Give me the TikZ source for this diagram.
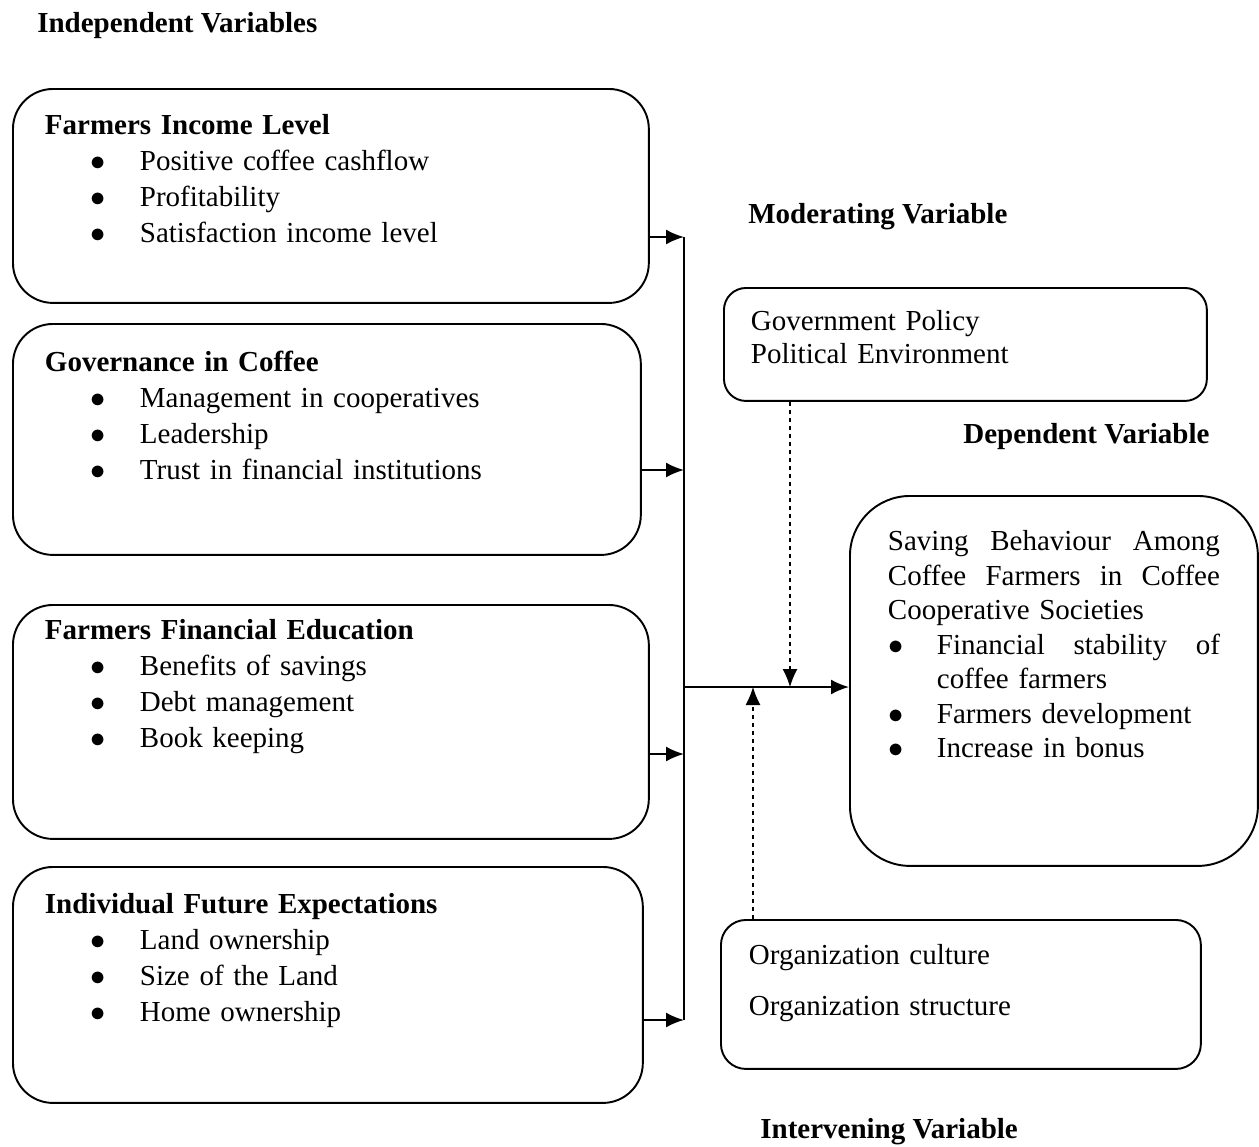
\documentclass[tikz,border=0pt]{standalone}
\usepackage{fontspec}
\setmainfont{Liberation Serif}
\usetikzlibrary{arrows.meta}
\newcommand\itm{\hspace*{0.92cm}\makebox[0.98cm][l]{$\bullet$}}
\newcommand\ditm{\makebox[0.98cm][l]{\hspace{0.02cm}$\bullet$}}
\begin{document}
\begin{tikzpicture}[x=0.02cm,y=-0.02cm,
	box/.style={draw,line width=1.1pt,anchor=north west,inner ysep=0pt,align=left},
	indep/.style={box,rounded corners=0.8cm,inner xsep=0.64cm,font=\fontsize{16.5}{20.4}\selectfont},
	heading/.style={anchor=base west,inner sep=0pt,font=\bfseries\fontsize{16.5}{20}\selectfont},
	feed/.style={line width=1.1pt,-{Latex[length=0.36cm,width=0.3cm]}},
	moder/.style={line width=0.7pt,dash pattern=on 0.08cm off 0.08cm,-{Latex[length=0.36cm,width=0.3cm]}}]
	\useasboundingbox (0,0) rectangle (1259,1147);
	
	\node[heading] (indeptitle) at (37,32) {Independent Variables};
	\node[heading] (modtitle) at (748,223) {Moderating Variable};
	\node[heading] (deptitle) at (963,443) {Dependent Variable};
	\node[heading] (inttitle) at (760,1138) {Intervening Variable};
	
	\node[indep,text width=11.44cm,text height=0.92cm,text depth=3.36cm] (income) at (12,88)
		{\textbf{Farmers Income Level}\\ \itm Positive coffee cashflow\\ \itm Profitability\\ \itm Satisfaction income level};
	\node[indep,text width=11.28cm,text height=0.96cm,text depth=3.66cm] (governance) at (12,323)
		{\textbf{Governance in Coffee}\\ \itm Management in cooperatives\\ \itm Leadership\\ \itm Trust in financial institutions};
	\node[indep,text width=11.44cm,text height=0.7cm,text depth=3.98cm] (education) at (12,604)
		{\textbf{Farmers Financial Education}\\ \itm Benefits of savings\\ \itm Debt management\\ \itm Book keeping};
	\node[indep,text width=11.32cm,text height=0.94cm,text depth=3.78cm] (expect) at (12,866)
		{\textbf{Individual Future Expectations}\\ \itm Land ownership\\ \itm Size of the Land\\ \itm Home ownership};
	
	\node[box,rounded corners=0.44cm,inner xsep=0.54cm,text width=8.58cm,text height=0.86cm,text depth=1.4cm,
		font=\fontsize{16.5}{18.8}\selectfont] (policy) at (723,287)
		{Government Policy\\ Political Environment};
	\node[box,rounded corners=1.2cm,inner xsep=0.76cm,text width=6.64cm,text height=1.1cm,text depth=6.3cm,
		font=\fontsize{16.5}{19.6}\selectfont] (saving) at (849,495)
		{\makebox[6.64cm][l]{Saving\hfill Behaviour\hfill Among}\\ \makebox[6.64cm][l]{Coffee\hfill Farmers\hfill in\hfill Coffee}\\ Cooperative Societies\\
		\ditm\makebox[5.66cm][l]{Financial\hfill stability\hfill of}\\ \hspace*{0.98cm}coffee farmers\\ \ditm Farmers development\\ \ditm Increase in bonus};
	\node[box,rounded corners=0.5cm,inner xsep=0.56cm,text width=8.48cm,text height=0.9cm,text depth=2.08cm,
		font=\fontsize{16.5}{28.5}\selectfont] (culture) at (720,919)
		{Organization culture\\ Organization structure};
	
	\coordinate (j1) at (684,237);
	\coordinate (j2) at (684,470);
	\coordinate (j3) at (684,754);
	\coordinate (j4) at (684,1020);
	\coordinate (hub) at (684,687);
	\coordinate (modin) at (790,687);
	\coordinate (intin) at (753,687);
	
	\draw[feed] (income.east |- j1) -- (j1);
	\draw[feed] (governance.east |- j2) -- (j2);
	\draw[feed] (education.east |- j3) -- (j3);
	\draw[feed] (expect.east |- j4) -- (j4);
	\draw[line width=1.1pt] (j1) -- (j4);
	\draw[feed] (hub) -- (saving.west |- hub);
	\draw[moder] (policy.south -| modin) -- (modin);
	\draw[moder] (culture.north -| intin) -- (intin);
\end{tikzpicture}
\end{document}
